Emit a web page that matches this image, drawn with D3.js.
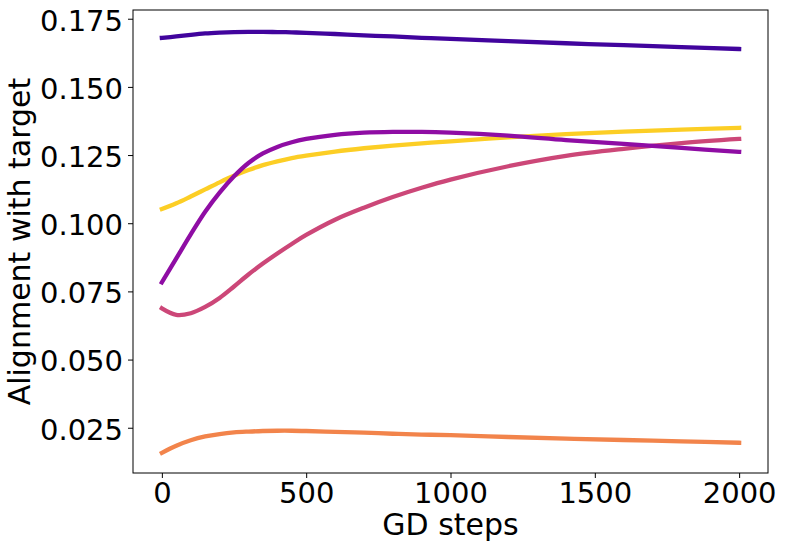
<!DOCTYPE html>
<html>
<head>
<meta charset="utf-8">
<script src="https://cdn.jsdelivr.net/npm/d3@7"></script>
<style>
  body { margin: 0; background: #fff; }
  text { font-family: "DejaVu Sans", sans-serif; }
</style>
</head>
<body>
<div id="chart"></div>
<script>
const steps = [0, 50, 100, 150, 200, 250, 300, 350, 400, 450, 500, 600, 700, 800, 900, 1000, 1200, 1400, 1600, 1800, 2000];

// one series per run, colours from the plasma map
const seriesDark = [0.1680, 0.1685, 0.1691, 0.1696, 0.1699, 0.1701, 0.1702, 0.1702, 0.1701, 0.1700, 0.1698, 0.1694, 0.1689, 0.1685, 0.1680, 0.1676, 0.1668, 0.1660, 0.1653, 0.1646, 0.1639];
const seriesPurple = [0.0783, 0.0871, 0.0959, 0.1042, 0.1112, 0.1172, 0.1221, 0.1256, 0.1280, 0.1297, 0.1309, 0.1324, 0.1332, 0.1335, 0.1335, 0.1332, 0.1321, 0.1305, 0.1291, 0.1276, 0.1262];
const seriesPink = [0.0688, 0.0664, 0.0670, 0.0693, 0.0726, 0.0768, 0.0812, 0.0852, 0.0889, 0.0924, 0.0957, 0.1013, 0.1057, 0.1096, 0.1130, 0.1160, 0.1209, 0.1247, 0.1273, 0.1294, 0.1309];
const seriesOrange = [0.0158, 0.0184, 0.0204, 0.0218, 0.0227, 0.0233, 0.0236, 0.0238, 0.0239, 0.0239, 0.0238, 0.0235, 0.0232, 0.0228, 0.0225, 0.0223, 0.0216, 0.0210, 0.0205, 0.0200, 0.0195];
const seriesYellow = [0.1052, 0.1073, 0.1098, 0.1124, 0.1150, 0.1174, 0.1195, 0.1213, 0.1227, 0.1239, 0.1248, 0.1263, 0.1275, 0.1285, 0.1293, 0.1300, 0.1315, 0.1327, 0.1336, 0.1343, 0.1350];

const xTicks = [0, 500, 1000, 1500, 2000];
const yTicks = [0.025, 0.050, 0.075, 0.100, 0.125, 0.150, 0.175];

// drawn in this order so the purples end up on top
const series = [
  { values: seriesYellow, color: "#fcce25" },
  { values: seriesOrange, color: "#f2844b" },
  { values: seriesPink, color: "#cc4778" },
  { values: seriesPurple, color: "#8f0da4" },
  { values: seriesDark, color: "#41049d" }
];

const W = 785, H = 550;
const plot = { left: 133, right: 768, top: 10, bottom: 473 };

const x = d3.scaleLinear().domain([-100, 2100]).range([plot.left, plot.right]);
const y = d3.scaleLinear().domain([0.0084, 0.1782]).range([plot.bottom, plot.top]);

const svg = d3.select("#chart").append("svg")
  .attr("width", W)
  .attr("height", H);

const line = d3.line()
  .x((d, i) => x(steps[i]))
  .y(d => y(d))
  .curve(d3.curveCatmullRom.alpha(0.5));

svg.selectAll(".run")
  .data(series)
  .enter()
  .append("path")
  .attr("class", "run")
  .attr("d", d => line(d.values))
  .attr("fill", "none")
  .attr("stroke", d => d.color)
  .attr("stroke-width", 4.3)
  .attr("stroke-linecap", "square");

const xAxis = svg.append("g")
  .attr("transform", "translate(0," + plot.bottom + ")")
  .call(d3.axisBottom(x).tickValues(xTicks).tickFormat(d3.format("d")).tickSize(5).tickPadding(4).tickSizeOuter(0));

const yAxis = svg.append("g")
  .attr("transform", "translate(" + plot.left + ",0)")
  .call(d3.axisLeft(y).tickValues(yTicks).tickFormat(d3.format(".3f")).tickSize(5).tickPadding(5).tickSizeOuter(0));

[xAxis, yAxis].forEach(g => {
  g.select(".domain").remove();
  g.selectAll(".tick line").attr("stroke", "#000").attr("stroke-width", 1);
  g.selectAll(".tick text")
    .attr("fill", "#000")
    .style("font-family", "'DejaVu Sans', sans-serif")
    .style("font-size", "29px");
});
yAxis.selectAll(".tick text").attr("dy", "0.39em");

svg.append("rect")
  .attr("x", plot.left)
  .attr("y", plot.top)
  .attr("width", plot.right - plot.left)
  .attr("height", plot.bottom - plot.top)
  .attr("fill", "none")
  .attr("stroke", "#000")
  .attr("stroke-width", 1);

svg.append("text")
  .attr("x", (plot.left + plot.right) / 2)
  .attr("y", 535)
  .attr("text-anchor", "middle")
  .style("font-size", "30px")
  .text("GD steps");

svg.append("text")
  .attr("transform", "translate(30," + (plot.top + plot.bottom) / 2 + ") rotate(-90)")
  .attr("text-anchor", "middle")
  .style("font-size", "30px")
  .text("Alignment with target");
</script>
</body>
</html>
